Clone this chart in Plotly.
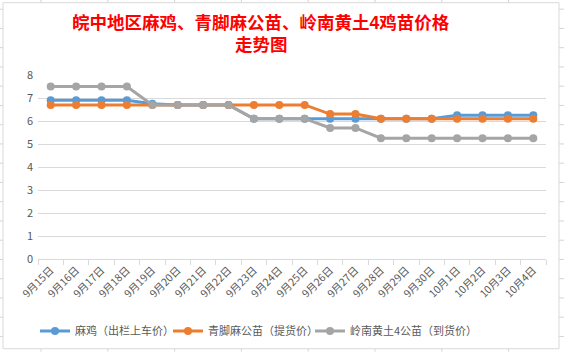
import plotly.graph_objects as go

categories = ["9月15日", "9月16日", "9月17日", "9月18日", "9月19日", "9月20日", "9月21日",
              "9月22日", "9月23日", "9月24日", "9月25日", "9月26日", "9月27日", "9月28日",
              "9月29日", "9月30日", "10月1日", "10月2日", "10月3日", "10月4日"]
ma_ji = [6.9, 6.9, 6.9, 6.9, 6.75, 6.7, 6.7, 6.7, 6.1, 6.1, 6.1, 6.1, 6.1, 6.1,
         6.1, 6.1, 6.25, 6.25, 6.25, 6.25]
qingjiao = [6.7, 6.7, 6.7, 6.7, 6.7, 6.7, 6.7, 6.7, 6.7, 6.7, 6.7, 6.3, 6.3, 6.1,
            6.1, 6.1, 6.1, 6.1, 6.1, 6.1]
lingnan = [7.5, 7.5, 7.5, 7.5, 6.7, 6.7, 6.7, 6.7, 6.1, 6.1, 6.1, 5.7, 5.7, 5.25,
           5.25, 5.25, 5.25, 5.25, 5.25, 5.25]
series_names = ["麻鸡（出栏上车价）", "青脚麻公苗（提货价）", "岭南黄土4公苗（到货价）"]
colors = ["#5B9BD5", "#ED7D31", "#A5A5A5"]
y_ticks = [0, 1, 2, 3, 4, 5, 6, 7, 8]
title_lines = ["皖中地区麻鸡、青脚麻公苗、岭南黄土4鸡苗价格", "走势图"]

W, H = 564, 352
L, R, T, B = 38, 546, 75.3, 259.3


def px(x):
    return (x - L) / (R - L)


def py(y):
    return (B - y) / (B - T)


legend_ids = ["legend", "legend2", "legend3"]
legend_x = [35, 168, 310]

fig = go.Figure()
for name, vals, c, lg in zip(series_names, [ma_ji, qingjiao, lingnan], colors, legend_ids):
    fig.add_trace(go.Scatter(
        x=categories, y=vals, name=name, mode="lines+markers",
        line=dict(color=c, width=3), marker=dict(color=c, size=8), legend=lg,
    ))

shapes = []
# spreadsheet cell lines outside chart
cell_col = "#D4D4D4"
xs = [41 + 66.8 * k for k in range(9)]
for x in xs:
    shapes.append(dict(type="line", xref="paper", yref="paper", x0=px(x), x1=px(x),
                       y0=py(0), y1=py(H), line=dict(color=cell_col, width=1), layer="below"))
ys = [9.5 + 19.25 * k for k in range(18)]
for y in ys:
    shapes.append(dict(type="line", xref="paper", yref="paper", x0=px(0), x1=px(W),
                       y0=py(y), y1=py(y), line=dict(color=cell_col, width=1), layer="below"))
# chart area
shapes.append(dict(type="rect", xref="paper", yref="paper", x0=px(3), x1=px(559),
                   y0=py(349), y1=py(3), fillcolor="white",
                   line=dict(color="#D9D9D9", width=1), layer="below"))

annotations = []
for line, yy in zip(title_lines, [23, 45]):
    annotations.append(dict(
        text="<b>" + line + "</b>",
        xref="paper", yref="paper", x=px(261), y=py(yy), xanchor="center", yanchor="middle",
        showarrow=False, borderpad=0,
        font=dict(size=17.5, color="#FF0000",
                  family="Liberation Sans, Noto Sans CJK SC, sans-serif"),
    ))

legend_layout = {}
for lg, lx in zip(legend_ids, legend_x):
    legend_layout[lg] = dict(
        orientation="h", xref="container", yref="container",
        x=lx / W, y=1 - 331 / H, xanchor="left", yanchor="middle",
        font=dict(size=11, color="#595959"), itemwidth=30,
        bgcolor="rgba(0,0,0,0)")

fig.update_layout(
    width=W, height=H,
    margin=dict(l=L, r=W - R, t=T, b=H - B),
    paper_bgcolor="white", plot_bgcolor="rgba(0,0,0,0)",
    font=dict(family="Noto Sans CJK SC, sans-serif", color="#595959", size=11),
    shapes=shapes,
    showlegend=True,
    annotations=annotations,
    **legend_layout,
)
fig.update_xaxes(type="category", tickangle=-45, showgrid=False,
                 showline=True, linecolor="#D9D9D9", linewidth=1,
                 ticks="outside", ticklen=5, tickcolor="#D9D9D9",
                 tickson="boundaries", tickfont=dict(size=10.5, color="#595959"),
                 range=[-0.5, len(categories) - 0.5])
fig.update_yaxes(range=[0, 8], tickvals=y_ticks, showgrid=True, gridcolor="#D9D9D9",
                 gridwidth=1, zeroline=False, showline=False, ticks="",
                 ticklabelstandoff=4,
                 tickfont=dict(size=11, color="#595959"))

fig.write_html("out.html")
